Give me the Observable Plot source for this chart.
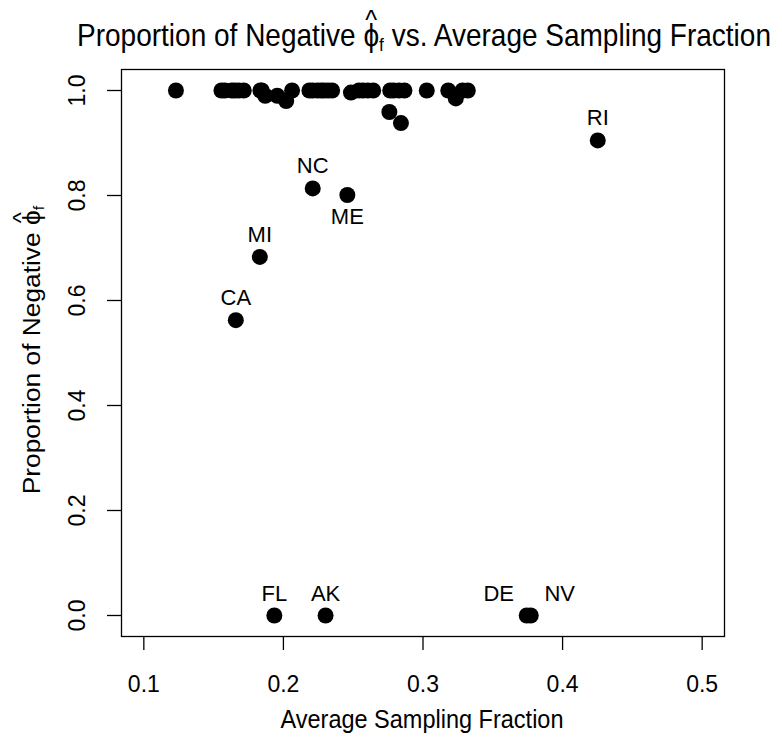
<!DOCTYPE html>
<html><head><meta charset="utf-8">
<script src="https://cdn.jsdelivr.net/npm/d3@7"></script>
<script src="https://cdn.jsdelivr.net/npm/@observablehq/plot@0.6"></script>
<style>
body{margin:0;background:#fff;}
#wrap{position:relative;width:782px;height:738px;font-family:"Liberation Sans",Arial,Helvetica,sans-serif;color:#000;background:#fff;}
#wrap svg{position:absolute;left:0;top:0;}
.t{position:absolute;white-space:nowrap;line-height:1;}
.phi{position:relative;display:inline-block;}
.hat{position:absolute;left:50%;transform:translateX(-50%);top:-0.5em;font-size:0.9em;}
.sub{font-size:0.62em;position:relative;top:0.3em;}
#title{font-size:28px;left:424px;top:36px;transform:translate(-50%,-50%) scale(1,1.1);}
#xlab{font-size:23.5px;left:422px;top:720px;transform:translate(-50%,-50%) scale(1,1.1);}
#ylab{font-size:23.5px;left:33px;top:350px;transform:translate(-50%,-50%) rotate(-90deg) scale(1.12,1);}
</style></head><body>
<div id="wrap">
<div class="t" id="title">Proportion of Negative <span class="phi">ϕ<span class="hat">^</span></span><span class="sub">f</span> vs. Average Sampling Fraction</div>
<div class="t" id="xlab">Average Sampling Fraction</div>
<div class="t" id="ylab">Proportion of Negative <span class="phi">ϕ<span class="hat">^</span></span><span class="sub">f</span></div>
</div>
<script>
const states = ["","","","","","","","","","","","","","","","","","","","","","","","","","","","","","","","","","","","",
  "RI","NC","ME","MI","CA","FL","AK","DE","NV"];
const samplingFraction = [0.123,0.1556,0.158,0.163,0.1652,0.168,0.1716,0.1835,0.1845,0.187,0.1956,0.202,0.2062,
  0.2186,0.221,0.2244,0.227,0.2292,0.232,0.2349,0.2484,0.2541,0.257,0.2605,0.2643,0.2765,0.279,0.2829,0.2867,
  0.3027,0.3181,0.3235,0.3283,0.3321,0.2759,0.2842,
  0.4252,0.2210,0.2458,0.1831,0.1659,0.1935,0.2302,0.3743,0.3772];
const propNegative = [1,1,1,1,1,1,1,1,1,0.99,0.99,0.98,1,
  1,1,1,1,1,1,1,0.996,1,1,1,1,1,1,1,1,
  1,1,0.985,1,1,0.959,0.938,
  0.905,0.8135,0.801,0.683,0.5626,0,0,0,0];
const xTicks = [0.1,0.2,0.3,0.4,0.5];
const yTicks = [0,0.2,0.4,0.6,0.8,1.0];
const labelsAbove = ["RI","NC","MI","CA","FL","AK"];
const labelsBelow = ["ME"];
const labelsLeft = ["DE"];
const labelsRight = ["NV"];

const data = states.map((s,i)=>({state:s, x:samplingFraction[i], y:propNegative[i]}));
const pick = names => data.filter(d => names.includes(d.state));
const fmt = d3.format(".1f");
const font = '"Liberation Sans",Arial,Helvetica,sans-serif';

const chart = Plot.plot({
  width:782, height:738,
  marginLeft:121, marginRight:58, marginTop:69, marginBottom:102,
  x:{domain:[0.084,0.516]},
  y:{domain:[-0.04,1.04]},
  style:{fontFamily:font, fontSize:"23px", color:"#000", background:"transparent"},
  marks:[
    Plot.frame({stroke:"#000", strokeWidth:1.3}),
    Plot.axisX({ticks:xTicks, tickSize:14, tickPadding:25, tickFormat:fmt, label:null, fontSize:23, strokeWidth:1.3}),
    Plot.axisY({ticks:yTicks, tickSize:14, tickPadding:23, tickRotate:-90, tickFormat:fmt, label:null, fontSize:23, strokeWidth:1.3}),
    Plot.dot(data,{x:"x", y:"y", r:8, fill:"#000", stroke:null}),
    Plot.text(pick(labelsAbove),{x:"x", y:"y", text:"state", dy:-22, fontSize:22}),
    Plot.text(pick(labelsBelow),{x:"x", y:"y", text:"state", dy:22, fontSize:22}),
    Plot.text(pick(labelsLeft),{x:"x", y:"y", text:"state", dx:-28, dy:-22, fontSize:22}),
    Plot.text(pick(labelsRight),{x:"x", y:"y", text:"state", dx:29, dy:-22, fontSize:22})
  ]
});
document.getElementById("wrap").prepend(chart);
</script>
</body></html>
